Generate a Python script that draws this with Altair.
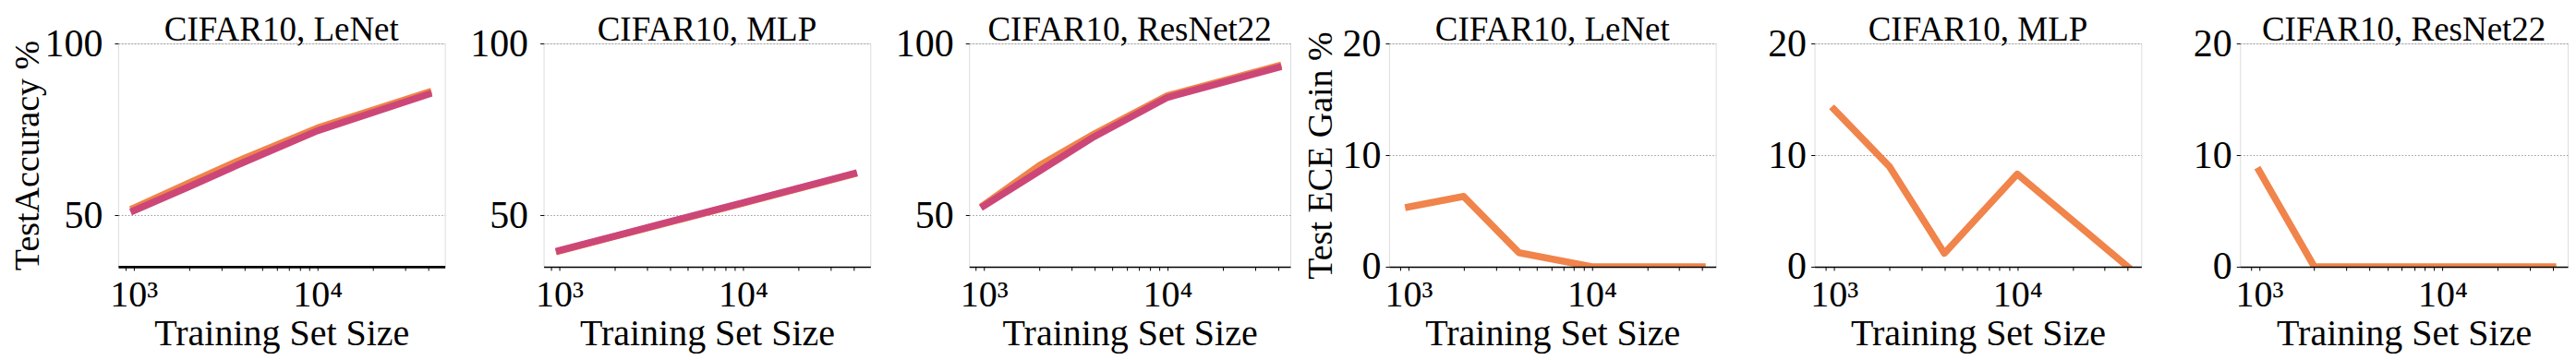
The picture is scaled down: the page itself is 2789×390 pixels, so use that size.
import altair as alt
import pandas as pd

# ---------------- data ----------------
sizes = [1000, 2000, 4000, 10000, 40000]

lenet_acc_orange = [52.1, 59.4, 66.6, 75.4, 85.8]
lenet_acc_pink = [51.3, 58.3, 65.5, 74.6, 85.2]
mlp_acc_orange = [39.6, 43.8, 48.0, 53.5, 62.0]
mlp_acc_pink = [39.7, 43.9, 48.1, 53.6, 62.1]
resnet_acc_orange = [53.0, 64.4, 73.7, 84.8, 93.5]
resnet_acc_pink = [52.7, 62.8, 72.9, 84.3, 93.0]

lenet_ece_gain = [5.35, 6.3, 1.26, 0.0, 0.0]
mlp_ece_gain = [14.1, 9.0, 1.2, 8.3, 0.0]
resnet_ece_gain = [8.6, 0.0, 0.0, 0.0, 0.0]

panel_titles = ["CIFAR10, LeNet", "CIFAR10, MLP", "CIFAR10, ResNet22",
                "CIFAR10, LeNet", "CIFAR10, MLP", "CIFAR10, ResNet22"]
x_tick_values = [900, 1000, 2000, 3000, 4000, 5000, 6000, 7000, 8000, 9000,
                 10000, 20000, 30000, 40000]
acc_ticks = [50, 100]
ece_ticks = [0, 10, 20]

ORANGE = "#F0844A"
PINK = "#CC4778"
FONT = "Liberation Serif"
H = 242


def make_df(vals):
    return pd.DataFrame({"size": sizes, "value": vals})


def panel(title, layers, ydom, yvals, width, xlog, ytitle=None, title_x=None,
          label_pad=13, domain_width=1.5):
    xaxis = alt.Axis(
        values=x_tick_values,
        labelExpr="datum.value == 1000 ? '10³' : datum.value == 10000 ? '10⁴' : ''",
        title="Training Set Size", grid=False, tickSize=4, tickColor="black",
        tickWidth=1, domainColor="black", domainWidth=domain_width,
        labelFont=FONT, labelFontSize=40, labelColor="black",
        labelBaseline="alphabetic", labelPadding=39, labelOverlap=False,
        labelFlush=False, titleFont=FONT, titleFontSize=40,
        titleFontWeight="normal", titleColor="black", titleX=width / 2,
        titleY=85, titleAlign="center", titleAnchor="middle",
        titleBaseline="alphabetic", zindex=1)
    ykw = dict(values=yvals, grid=True, gridDash=[1.5, 2], gridColor="#999999",
               gridWidth=1, domain=False, tickSize=4, tickColor="black",
               tickWidth=1, labelFont=FONT, labelFontSize=42,
               labelColor="black", labelPadding=label_pad,
               labelBaseline="middle")
    if ytitle is not None:
        ykw.update(title=ytitle, titleFont=FONT, titleFontSize=38,
                   titleFontWeight="normal", titleColor="black",
                   titleAngle=270, titleBaseline="alphabetic",
                   titleAlign="center", titleAnchor="middle",
                   titleX=title_x, titleY=H / 2)
    else:
        ykw.update(title="")
    yaxis = alt.Axis(**ykw)
    charts = []
    for df, color in layers:
        charts.append(
            alt.Chart(df).mark_line(color=color, strokeWidth=7.5, clip=True,
                                    strokeCap="square", strokeJoin="round")
            .encode(
                x=alt.X("size:Q", axis=xaxis,
                        scale=alt.Scale(type="log",
                                        domain=[10 ** xlog[0], 10 ** xlog[1]])),
                y=alt.Y("value:Q", axis=yaxis,
                        scale=alt.Scale(domain=ydom, nice=False, zero=False)),
            )
        )
    return alt.layer(*charts).properties(
        width=width, height=H,
        title=alt.TitleParams(text=title, font=FONT, fontSize=37,
                              fontWeight="normal", color="black",
                              frame="group", anchor="middle", offset=-26),
    )


p1 = panel(panel_titles[0],
           [(make_df(lenet_acc_orange), ORANGE), (make_df(lenet_acc_pink), PINK)],
           [35, 100], acc_ticks, 354, (2.915, 4.693),
           ytitle="TestAccuracy %", title_x=-86, domain_width=2.8)
p2 = panel(panel_titles[1],
           [(make_df(mlp_acc_orange), ORANGE), (make_df(mlp_acc_pink), PINK)],
           [35, 100], acc_ticks, 354, (2.915, 4.693))
p3 = panel(panel_titles[2],
           [(make_df(resnet_acc_orange), ORANGE), (make_df(resnet_acc_pink), PINK)],
           [35, 100], acc_ticks, 348, (2.92, 4.669))
p4 = panel(panel_titles[3], [(make_df(lenet_ece_gain), ORANGE)],
           [0, 20], ece_ticks, 354, (2.894, 4.676),
           ytitle="Test ECE Gain %", title_x=-62, label_pad=5)
p5 = panel(panel_titles[4], [(make_df(mlp_ece_gain), ORANGE)],
           [0, 20], ece_ticks, 354, (2.894, 4.676), label_pad=5)
p6 = panel(panel_titles[5], [(make_df(resnet_ece_gain), ORANGE)],
           [0, 20], ece_ticks, 355, (2.896, 4.683), label_pad=5)

chart = (
    alt.hconcat(p1, p2, p3, p4, p5, p6, spacing=107, bounds="flush")
    .properties(padding={"left": 3, "top": 5, "right": 0, "bottom": 0})
    .configure_view(strokeWidth=0)
    .configure(background="white")
)

chart.save("out.html", embed_options={"renderer": "svg", "actions": False})
